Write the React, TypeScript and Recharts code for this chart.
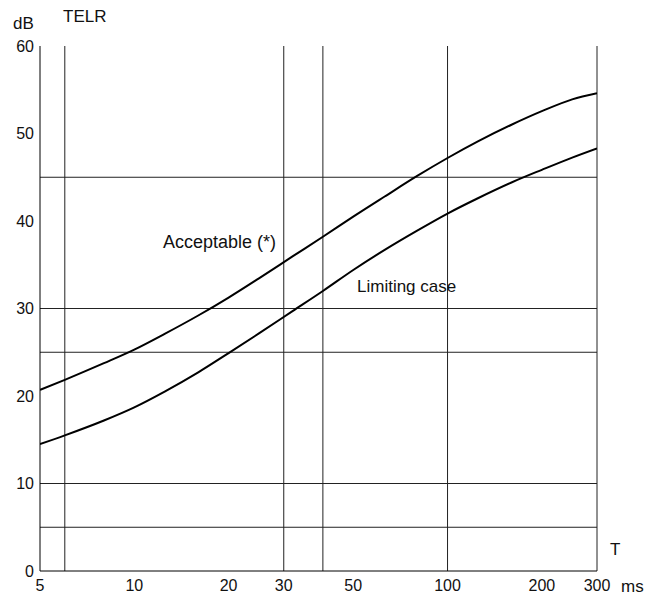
import React from 'react';
import { LineChart, Line, XAxis, YAxis, ReferenceLine } from 'recharts';

// delay T in ms (log axis)
const T_MS = [5, 6, 8, 10, 12.5, 16, 20, 25, 32, 40, 50, 63, 80, 100, 125, 160, 200, 250, 300];
// TELR in dB
const ACCEPTABLE = [20.7, 21.85, 23.75, 25.3, 27.1, 29.2, 31.25, 33.45, 35.95, 38.2, 40.5, 42.8, 45.15, 47.2, 49.1, 51.0, 52.55, 53.9, 54.6];
const LIMITING = [14.5, 15.5, 17.2, 18.7, 20.5, 22.7, 24.9, 27.15, 29.7, 32.0, 34.4, 36.7, 38.9, 40.85, 42.6, 44.4, 45.85, 47.25, 48.3];

const X_TICKS = [5, 10, 20, 30, 50, 100, 200, 300];
const Y_TICKS = [0, 10, 20, 30, 40, 50, 60];
const H_LINES = [5, 10, 25, 30, 45];
const V_LINES = [6, 30, 40, 100, 300];

const FONT = '"Liberation Sans", Arial, sans-serif';

const App: React.FC = () => {
  const data = T_MS.map((t, i) => ({ t, acc: ACCEPTABLE[i], lim: LIMITING[i] }));

  const txt = (s: string, left: number, top: number, size = 17) => (
    <div style={{ position: 'absolute', left, top, fontFamily: FONT, fontSize: size, color: '#111', lineHeight: 1, whiteSpace: 'nowrap' }}>
      {s}
    </div>
  );

  return (
    <div style={{ position: 'absolute', left: 0, top: 0, width: 650, height: 599, background: '#fff' }}>
      <LineChart width={650} height={599} data={data} margin={{ top: 46, right: 53, bottom: 0, left: 0 }}>
        <XAxis
          dataKey="t"
          type="number"
          scale="log"
          domain={[5, 300]}
          ticks={X_TICKS}
          allowDataOverflow
          height={28}
          tickSize={0}
          tickMargin={9}
          axisLine={{ stroke: '#000' }}
          tick={{ fill: '#111', fontSize: 16, fontFamily: FONT }}
        />
        <YAxis
          type="number"
          domain={[0, 60]}
          ticks={Y_TICKS}
          width={40}
          tickSize={0}
          tickMargin={6}
          axisLine={{ stroke: '#000' }}
          tick={{ fill: '#111', fontSize: 16, fontFamily: FONT }}
        />
        {H_LINES.map(v => (
          <ReferenceLine key={'h' + v} y={v} stroke="#222" strokeWidth={1} />
        ))}
        {V_LINES.map(v => (
          <ReferenceLine key={'v' + v} x={v} stroke="#222" strokeWidth={1} />
        ))}
        <Line type="monotone" dataKey="acc" stroke="#000" strokeWidth={2} dot={false} isAnimationActive={false} />
        <Line type="monotone" dataKey="lim" stroke="#000" strokeWidth={2} dot={false} isAnimationActive={false} />
      </LineChart>
      {txt('dB', 13, 15)}
      {txt('TELR', 63, 8)}
      {txt('T', 610, 541)}
      {txt('ms', 621, 578)}
      {txt('Acceptable (*)', 163, 233, 18)}
      {txt('Limiting case', 357, 278, 17)}
    </div>
  );
};

export default App;
